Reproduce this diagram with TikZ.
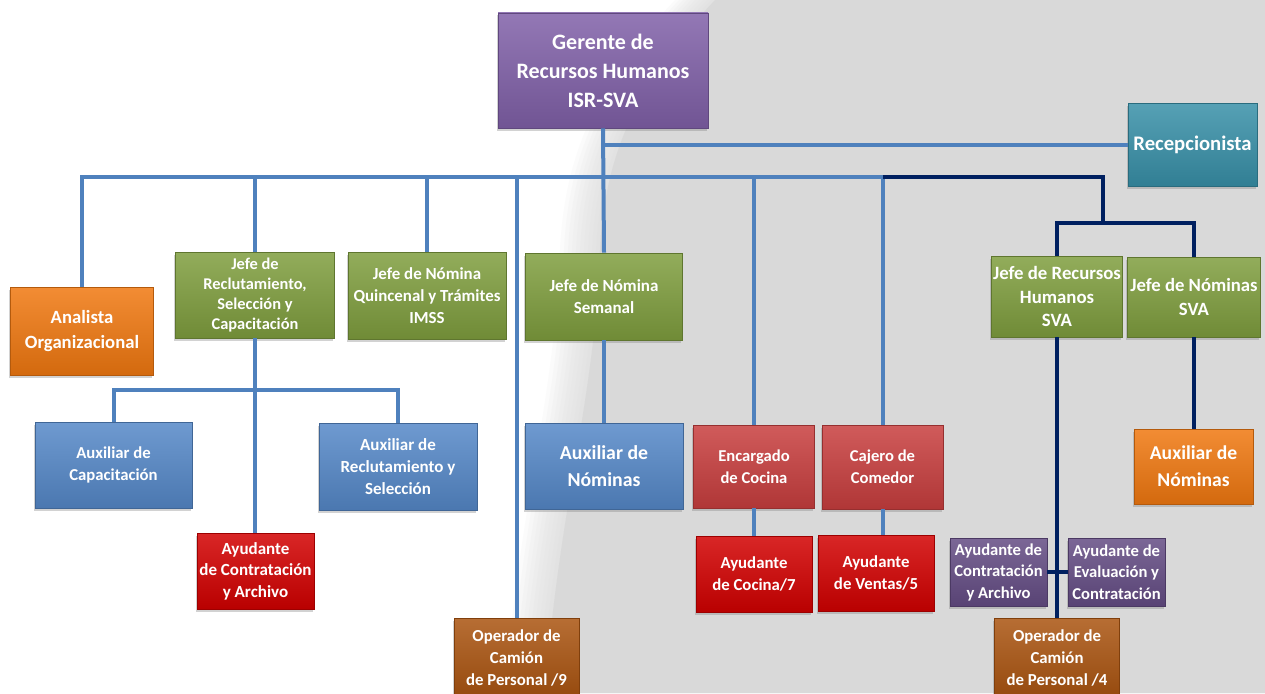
\documentclass[tikz,border=0pt]{standalone}
\usepackage{fontspec}
\setmainfont{Carlito}
\usetikzlibrary{shadows}
\definecolor{bgg}{RGB}{217,217,217}
\definecolor{cpurple}{RGB}{128,96,168}
\definecolor{cteal}{RGB}{56,144,168}
\definecolor{corange}{RGB}{240,120,16}
\definecolor{cgreen}{RGB}{127,158,62}
\definecolor{cblue}{RGB}{85,136,200}
\definecolor{crose}{RGB}{200,62,62}
\definecolor{cred}{RGB}{210,0,0}
\definecolor{cbrown}{RGB}{170,84,16}
\definecolor{cdpurple}{RGB}{100,76,132}
\definecolor{lblue}{RGB}{79,129,189}
\definecolor{lnavy}{RGB}{0,32,96}
\tikzset{
  bx/.style={draw=#1!75!black, line width=0.8pt, top color=#1!85!white, bottom color=#1!88!black,
    text=white, align=center, inner sep=0pt, font=\bfseries,
    drop shadow={shadow xshift=-1.5pt, shadow yshift=-2.5pt, opacity=0.35}},
  fs/.style 2 args={font=\bfseries\fontsize{#1}{#2}\selectfont},
  conn/.style={draw=lblue, line width=4pt},
  nconn/.style={draw=lnavy, line width=4pt},
}
\begin{document}
\begin{tikzpicture}[x=1pt,y=-1pt]
\useasboundingbox (0,0) rectangle (1265,693);
\fill[white] (0,0) rectangle (1265,693);
\foreach \s in {-40,-36,...,0}{
  \begin{scope}[xshift=\s pt]
  \fill[bgg, opacity=0.1] (715,0) .. controls (640,80) and (605,150) .. (600,250) .. controls (595,400) and (560,500) .. (545,693) -- (1400,693) -- (1400,0) -- cycle;
  \end{scope}
}
\fill[bgg] (715,0) .. controls (640,80) and (605,150) .. (600,250) .. controls (595,400) and (560,500) .. (545,693) -- (1265,693) -- (1265,0) -- cycle;

% nodes
\node[bx=cpurple, fs={22}{29}, minimum width=210, minimum height=115] (ger) at (603,70.5) {Gerente de\\Recursos Humanos\\ISR-SVA};
\node[bx=cteal, fs={20.7}{24}, minimum width=129, minimum height=83] (rec) at (1192.5,144.5) {Recepcionista};
\node[bx=corange, fs={18.7}{25}, minimum width=143, minimum height=88] (an) at (82,331) {Analista\\Organizacional};
\node[bx=cgreen, fs={16.4}{20.3}, minimum width=159, minimum height=86] (jr) at (255,295) {Jefe de\\Reclutamiento,\\Selección y\\Capacitación};
\node[bx=cgreen, fs={16.9}{22}, minimum width=158, minimum height=87] (jq) at (427,295.5) {Jefe de Nómina\\Quincenal y Trámites\\IMSS};
\node[bx=cgreen, fs={17}{22}, minimum width=157, minimum height=87] (sem) at (604,296.5) {Jefe de Nómina\\Semanal};
\node[bx=cgreen, fs={18.8}{23.5}, minimum width=131, minimum height=81] (rh) at (1057,296.5) {Jefe de Recursos\\Humanos\\SVA};
\node[bx=cgreen, fs={18.7}{24.5}, minimum width=133, minimum height=80] (ns) at (1194,297) {Jefe de Nóminas\\SVA};
\node[bx=cblue, fs={16.7}{22}, minimum width=157, minimum height=86] (ac) at (113.5,465) {Auxiliar de\\Capacitación};
\node[bx=cblue, fs={17}{22}, minimum width=158, minimum height=87] (ars) at (398,466.5) {Auxiliar de\\Reclutamiento y\\Selección};
\node[bx=cblue, fs={19.8}{27}, minimum width=158, minimum height=86] (axn) at (604,466) {Auxiliar de\\Nóminas};
\node[bx=crose, fs={16.6}{22}, minimum width=121, minimum height=83] (enc) at (754,466.5) {Encargado\\de Cocina};
\node[bx=crose, fs={16.6}{22}, minimum width=121, minimum height=84] (caj) at (882.5,467) {Cajero de\\Comedor};
\node[bx=corange, fs={19.6}{27}, minimum width=119, minimum height=75] (axo) at (1193.5,466.5) {Auxiliar de\\Nóminas};
\node[bx=cred, fs={17}{21.5}, minimum width=117, minimum height=76] (ayr) at (255.5,571) {Ayudante\\de Contratación\\y Archivo};
\node[bx=cred, fs={16.8}{22}, minimum width=116, minimum height=76] (ayc) at (754,574) {Ayudante\\de Cocina/7};
\node[bx=cred, fs={16.8}{22}, minimum width=116, minimum height=76] (ayv) at (876,573) {Ayudante\\de Ventas/5};
\node[bx=cdpurple, fs={16.6}{21.5}, minimum width=97, minimum height=68] (pa) at (998.5,572) {Ayudante de\\Contratación\\y Archivo};
\node[bx=cdpurple, fs={16.6}{21.5}, minimum width=97, minimum height=68] (pe) at (1116.5,572) {Ayudante de\\Evaluación y\\Contratación};
\node[bx=cbrown, fs={16.8}{22}, minimum width=125, minimum height=80] (op9) at (516.5,658) {Operador de\\Camión\\de Personal /9};
\node[bx=cbrown, fs={16.8}{22}, minimum width=125, minimum height=80] (op4) at (1057,658) {Operador de\\Camión\\de Personal /4};

% bus coordinates
\coordinate (busL) at (82,177);
\coordinate (nj) at (1103,223);
\coordinate (ab) at (255,390);

% blue connectors
\draw[conn] (ger.south) -- (sem.north);
\draw[conn] (ger.south |- rec.west) -- (rec.west);
\draw[conn] (an.north) |- (caj.north |- busL) -- (caj.north);
\draw[conn] (jr.north) -- (jr.north |- busL);
\draw[conn] (jq.north) -- (jq.north |- busL);
\draw[conn] (op9.north) -- (op9.north |- busL);
\draw[conn] (enc.north) -- (enc.north |- busL);
\draw[conn] (jr.south) -- (jr.south |- ayr.north);
\draw[conn] (ac.north) |- (ab) -| (ars.north);
\draw[conn] (sem.south) -- (axn.north);
\draw[conn] (enc.south) -- (ayc.north);
\draw[conn] (caj.south) -- (caj.south |- ayv.north);

% navy connectors
\draw[nconn] (caj.north |- busL) -| (nj);
\draw[nconn] (rh.north) |- (nj) -| (ns.north);
\draw[nconn] (rh.south) -- (op4.north);
\draw[nconn] (pa.east) -- (pe.west);
\draw[nconn] (ns.south) -- (ns.south |- axo.north);
\end{tikzpicture}
\end{document}
